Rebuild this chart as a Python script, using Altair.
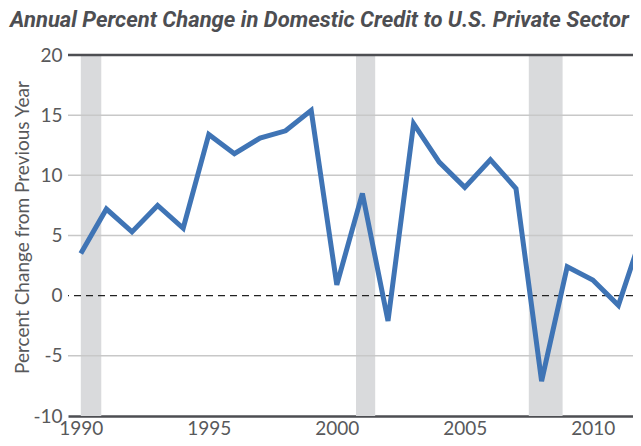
import altair as alt
import pandas as pd

years = list(range(1990, 2013))
values = [3.5, 7.2, 5.3, 7.5, 5.6, 13.4, 11.8, 13.1, 13.7, 15.4,
          0.9, 8.5, -2.1, 14.3, 11.1, 9.0, 11.3, 8.9, -7.1, 2.4,
          1.3, -0.8, 5.6]

rec_start = [1990.0, 2000.75, 2007.5]
rec_end = [1990.8, 2001.5, 2008.82]

grid_vals = [-5, 5, 10, 15]

df = pd.DataFrame({"year": years, "value": values})
rec = pd.DataFrame({"start": rec_start, "end": rec_end})
grid = pd.DataFrame({"v": grid_vals})

FONT = "Lato, Open Sans, sans-serif"
TFONT = "Liberation Sans Narrow, Roboto, sans-serif"
TXT = "#58595b"

W = 565
H = 361

xscale = alt.Scale(domain=[1989.5, 1989.5 + W / 25.6], nice=False, zero=False)
yscale = alt.Scale(domain=[-10, 20], nice=False, zero=False)

bands = alt.Chart(rec).mark_rect(color="#d9dadc").encode(
    x=alt.X("start:Q", scale=xscale, axis=alt.Axis(
        values=[1990, 1995, 2000, 2005, 2010], format="d", title=None,
        grid=False, ticks=False, domain=True, domainColor="#4d4e52",
        domainWidth=2.5, labelFont=FONT, labelFontSize=19, labelColor=TXT,
        labelPadding=3, labelFlush=False)),
    x2="end:Q",
    y=alt.value(0),
    y2=alt.value(H),
)

gridlines = alt.Chart(grid).mark_rule(color="#c8c8c8", strokeWidth=1.5).encode(
    y=alt.Y("v:Q", scale=yscale, axis=alt.Axis(
        values=[-10, -5, 0, 5, 10, 15, 20], title="Percent Change from Previous Year",
        labelExpr="'' + datum.value",
        grid=False, ticks=False, domain=False, labelFont=FONT, labelFontSize=19,
        labelColor=TXT, labelPadding=6, titleFont=FONT, titleFontSize=19,
        titleFontWeight="normal", titleColor=TXT, titleX=-36, titleY=172)),
)

top = alt.Chart(pd.DataFrame({"v": [20]})).mark_rule(color="#4d4e52", strokeWidth=2.5).encode(
    y=alt.Y("v:Q", scale=yscale)
)
zero = alt.Chart(pd.DataFrame({"v": [0]})).mark_rule(
    color="#222222", strokeWidth=1.3, strokeDash=[7, 5]).encode(
    y=alt.Y("v:Q", scale=yscale)
)

line = alt.Chart(df).mark_line(color="#3f74b5", strokeWidth=5, clip=True,
                               strokeJoin="miter").encode(
    x=alt.X("year:Q", scale=xscale),
    y=alt.Y("value:Q", scale=yscale),
)

chart = alt.layer(bands, gridlines, top, zero, line).properties(
    width=W,
    height=H,
    autosize=alt.AutoSizeParams(type="none"),
    padding={"left": 60, "top": 47, "right": 0, "bottom": 22},
    title=alt.TitleParams(
        "Annual Percent Change in Domestic Credit to U.S. Private Sector",
        anchor="start", frame="group", dx=-58, offset=14,
        font=TFONT, fontSize=22, fontStyle="italic", fontWeight="bold",
        color="#4d4e52"),
).configure_view(stroke=None)

chart.save("out.html", embed_options={"renderer": "svg", "actions": False})
